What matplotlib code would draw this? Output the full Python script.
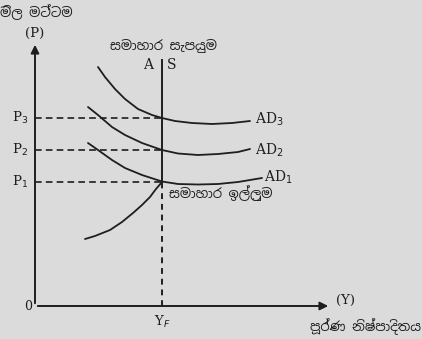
import numpy as np
import matplotlib.pyplot as plt
from matplotlib import font_manager

# points (pixel-like units, y grows upward from the X axis)
ad3_x = [63, 70, 80, 90, 103, 117, 127, 140, 157, 177, 197, 215]
ad3_y = [239, 229, 217, 207, 197, 191, 188, 185, 183, 182, 183, 185]
ad2_x = [53, 63, 77, 90, 107, 127, 143, 163, 183, 203, 215]
ad2_y = [199, 191, 179, 171, 163, 156, 152.5, 151, 152, 154, 157]
ad1_x = [53, 63, 77, 90, 107, 127, 143, 163, 183, 203, 227]
ad1_y = [163, 156, 146, 138, 131, 124.5, 122, 121.5, 122, 124, 128]
as_x = [50, 60, 75, 87, 98, 107, 115, 121, 127]
as_y = [67, 70, 76, 84, 93, 101, 109, 117, 124]

yf = 127
p_levels = [124, 156, 188]
p_labels = ["P$_1$", "P$_2$", "P$_3$"]
ad_labels = ["AD$_1$", "AD$_2$", "AD$_3$"]
ad_label_x = [229, 220, 220]
ad_label_y = [129, 156, 187]

# Sinhala text needs a font that has the glyphs, use one if there is one
fam = ["DejaVu Sans"]
for f in font_manager.fontManager.ttflist:
    if "Sinhala" in f.name:
        fam = [f.name, "DejaVu Sans"]
        break

bg = "#dbdbdb"
ink = "#1e1e1e"

fig = plt.figure(figsize=(4.22, 3.39), dpi=100, facecolor=bg)
ax = fig.add_axes([0, 0, 1, 1])
ax.set_facecolor(bg)
ax.set_xlim(-35, 387)
ax.set_ylim(-33, 306)
ax.axis("off")

# axes with arrows
ax.annotate("", xy=(0, 264), xytext=(0, 0),
            arrowprops=dict(arrowstyle="-|>", color=ink, lw=1.4, mutation_scale=12))
ax.annotate("", xy=(296, 0), xytext=(0, 0),
            arrowprops=dict(arrowstyle="-|>", color=ink, lw=1.4, mutation_scale=12))

# aggregate supply: vertical part solid, dashed down to Y_F
ax.plot([yf, yf], [p_levels[0], 246], color=ink, lw=1.4)
ax.plot([yf, yf], [0, p_levels[0]], color=ink, lw=1.4, ls=(0, (3, 2.5)))
ax.plot(as_x, as_y, color=ink, lw=1.3, solid_capstyle="round", solid_joinstyle="round")

# AD curves
for cx, cy in [(ad1_x, ad1_y), (ad2_x, ad2_y), (ad3_x, ad3_y)]:
    ax.plot(cx, cy, color=ink, lw=1.3, solid_capstyle="round", solid_joinstyle="round")

# price levels
for p, lab in zip(p_levels, p_labels):
    ax.plot([0, yf], [p, p], color=ink, lw=1.2, ls=(0, (4, 2.5)))
    ax.text(-15, p, lab, ha="center", va="center", fontsize=9.5, family="DejaVu Serif", color=ink)

for x, y, lab in zip(ad_label_x, ad_label_y, ad_labels):
    ax.text(x, y, lab, ha="left", va="center", fontsize=10, family="DejaVu Serif", color=ink)

ax.text(113, 241, "A", ha="center", va="center", fontsize=10, family="DejaVu Serif", color=ink)
ax.text(137, 241, "S", ha="center", va="center", fontsize=10, family="DejaVu Serif", color=ink)
ax.text(129, 260, "සමාහාර සැපයුම", ha="center", va="center", fontsize=9.5, family=fam, color=ink)
ax.text(134, 113, "සමාහාර ඉල්ලුම", ha="left", va="center", fontsize=9.5, family=fam, color=ink)

ax.text(0, 273, "(P)", ha="center", va="center", fontsize=9.5, family="DejaVu Serif", color=ink)
ax.text(-35, 294, "මිල මට්ටම", ha="left", va="center", fontsize=9.5, family=fam, color=ink)
ax.text(-7, 0, "0", ha="center", va="center", fontsize=9, family="DejaVu Serif", color=ink)
ax.text(yf, -16, "Y$_F$", ha="center", va="center", fontsize=9.5, family="DejaVu Serif", color=ink)
ax.text(301, 6, "(Y)", ha="left", va="center", fontsize=9.5, family="DejaVu Serif", color=ink)
ax.text(386, -21, "පූර්ණ නිෂ්පාදිතය", ha="right", va="center", fontsize=9.5, family=fam, color=ink)

fig.savefig("out.png", dpi=100, facecolor=bg)
